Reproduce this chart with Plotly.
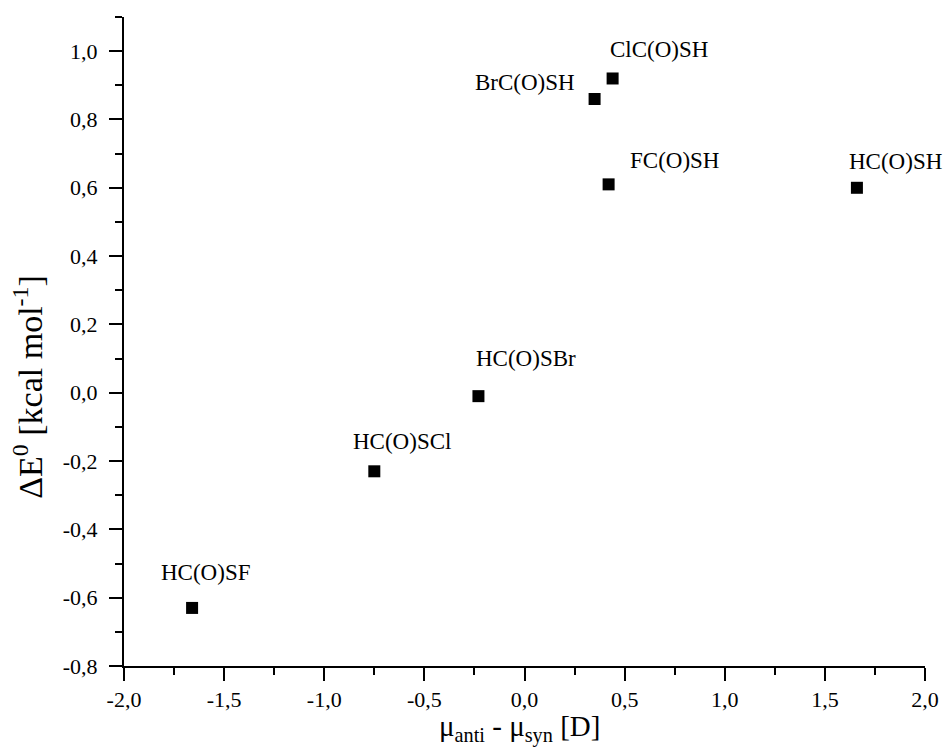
import plotly.graph_objects as go

# Data
compounds = ["HC(O)SF", "HC(O)SCl", "HC(O)SBr", "BrC(O)SH", "ClC(O)SH", "FC(O)SH", "HC(O)SH"]
delta_mu = [-1.66, -0.75, -0.23, 0.35, 0.44, 0.42, 1.66]
delta_E = [-0.63, -0.23, -0.01, 0.86, 0.92, 0.61, 0.60]

x_tick_vals = [-2.0, -1.5, -1.0, -0.5, 0.0, 0.5, 1.0, 1.5, 2.0]
x_tick_text = ["-2,0", "-1,5", "-1,0", "-0,5", "0,0", "0,5", "1,0", "1,5", "2,0"]
y_tick_vals = [-0.8, -0.6, -0.4, -0.2, 0.0, 0.2, 0.4, 0.6, 0.8, 1.0]
y_tick_text = ["-0,8", "-0,6", "-0,4", "-0,2", "0,0", "0,2", "0,4", "0,6", "0,8", "1,0"]

x_title = "μ<sub>anti</sub> - μ<sub>syn</sub> [D]"
y_title = "ΔE<sup>0</sup> [kcal mol<sup>-1</sup>]"

# label offsets in pixels (style only)
label_dx = [13, 28, 48, -70, 46, 66, 39]
label_dy = [35, 30, 38, 16, 29, 24, 26]

FONT = "Liberation Serif, Times New Roman, serif"

fig = go.Figure()
fig.add_trace(go.Scatter(
    x=delta_mu, y=delta_E, mode="markers",
    marker=dict(symbol="square", size=12, color="black"),
    cliponaxis=False, showlegend=False,
))

for name, xv, yv, dx, dy in zip(compounds, delta_mu, delta_E, label_dx, label_dy):
    fig.add_annotation(x=xv, y=yv, text=name, showarrow=False,
                       xshift=dx, yshift=dy, xanchor="center", yanchor="middle",
                       font=dict(family=FONT, size=23, color="black"))

axis_common = dict(
    showline=True, linecolor="black", linewidth=2, mirror=False,
    ticks="outside", ticklen=13, tickwidth=2, tickcolor="black",
    showgrid=False, zeroline=False, automargin=False,
    tickfont=dict(family=FONT, size=22, color="black"),
    tickmode="array",
)

fig.update_xaxes(range=[-2, 2], tickvals=x_tick_vals, ticktext=x_tick_text,
                 minor=dict(tickmode="linear", tick0=-2, dtick=0.25, ticklen=7, tickwidth=2,
                            tickcolor="black", ticks="outside", showgrid=False),
                 **axis_common)
fig.update_yaxes(range=[-0.8, 1.1], tickvals=y_tick_vals, ticktext=y_tick_text,
                 ticklabelstandoff=7,
                 minor=dict(tickmode="linear", tick0=-0.8, dtick=0.1, ticklen=7, tickwidth=2,
                            tickcolor="black", ticks="outside", showgrid=False),
                 **axis_common)

# axis titles as paper annotations
fig.add_annotation(xref="paper", yref="paper", x=0.494, y=-0.097, text=x_title,
                   showarrow=False, xanchor="center", yanchor="middle",
                   font=dict(family=FONT, size=29, color="black"))
fig.add_annotation(xref="paper", yref="paper", x=-0.12, y=0.43, text=y_title,
                   showarrow=False, textangle=-90, xanchor="center", yanchor="middle",
                   font=dict(family=FONT, size=34, color="black"))

fig.update_layout(
    width=943, height=749,
    margin=dict(l=124, r=18, t=17, b=83, autoexpand=False),
    plot_bgcolor="white", paper_bgcolor="white",
    font=dict(family=FONT, color="black"),
)

fig.write_html("out.html", config={"displayModeBar": False},
               post_script="document.body.style.margin='0';document.body.style.overflow='hidden';")
